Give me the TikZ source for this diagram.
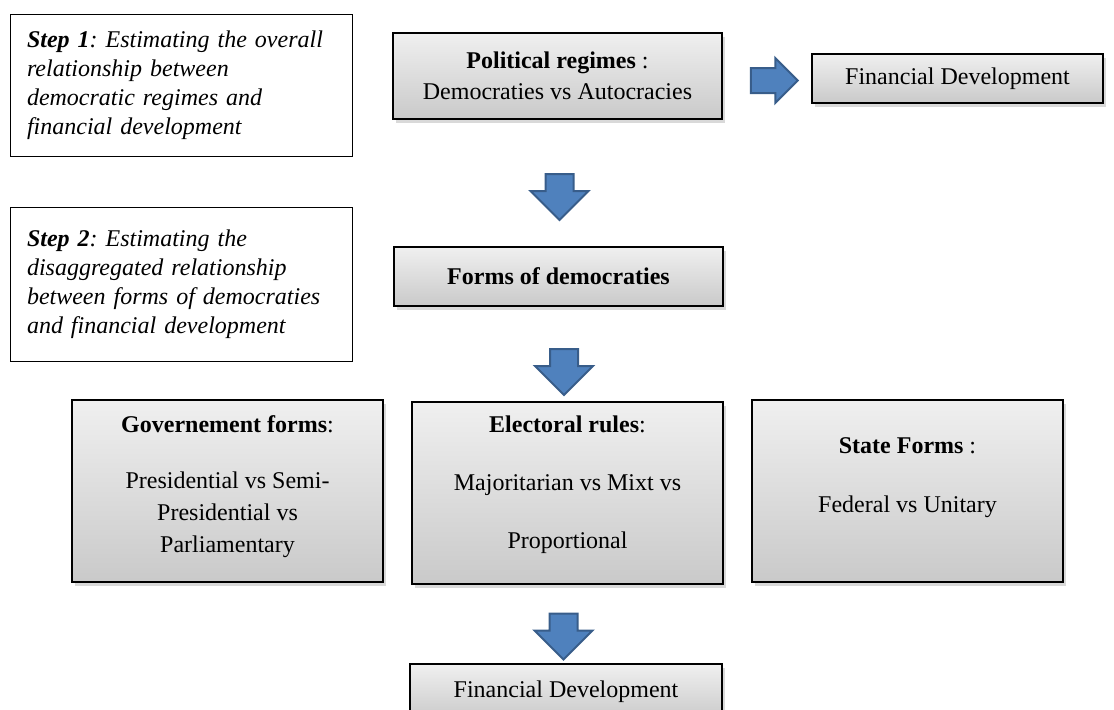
\documentclass[tikz,border=0pt]{standalone}
\usepackage{fontspec}
\setmainfont{Liberation Serif}
\usetikzlibrary{shapes.arrows,shadows}
\newlength{\du}
\setlength{\du}{0.5pt}
\definecolor{arrowfill}{RGB}{79,129,189}
\definecolor{arrowedge}{RGB}{56,93,138}
\frenchspacing

\begin{document}
\begin{tikzpicture}[yscale=-1,
  font=\fontsize{12}{14.5}\selectfont,
  gbox/.style={draw=black, line width=0.8pt, top color=gray!12, bottom color=gray!42,
    drop shadow={shadow xshift=1.5pt, shadow yshift=-2pt, opacity=0.3}, inner sep=0pt, align=center},
  stepbox/.style={draw=black, line width=0.5pt, fill=white, inner xsep=8.5pt, inner ysep=0pt, align=left},
  blockarrow/.style={single arrow, draw=arrowedge, fill=arrowfill, line width=1pt,
    inner xsep=0pt, inner ysep=6.5pt, minimum height=23pt, single arrow head extend=7.5pt},
  downarrow/.style={blockarrow, shape border rotate=270, inner xsep=6.5pt, inner ysep=0pt}]
\useasboundingbox (0,0) rectangle (1114\du,709\du);
\clip (0,0) rectangle (1114\du,709\du);
% steps
\node[stepbox, minimum width=342\du, minimum height=142\du, text width=308\du] (stepone) at (181\du,85\du)
  {\textbf{\textit{Step 1}}\textit{: Estimating the overall}\\ \textit{relationship between}\\ \textit{democratic regimes and}\\ \textit{financial development}};
\node[stepbox, minimum width=342\du, minimum height=154\du, text width=308\du] (steptwo) at (181\du,284\du)
  {\textbf{\textit{Step 2}}\textit{: Estimating the}\\ \textit{disaggregated relationship}\\ \textit{between forms of democraties}\\ \textit{and financial development}};
% top row
\node[gbox, minimum width=329\du, minimum height=86\du, font=\fontsize{12}{15.5}\selectfont] (regimes) at (557.5\du,76\du)
  {\textbf{Political regimes} :\\ Democraties vs Autocracies};
\node[blockarrow, minimum height=23.5pt, inner ysep=5.75pt, single arrow head extend=5pt] (arrowright) at (768\du,80.5\du) {};
\node[gbox, minimum width=291\du, minimum height=49\du] (findevtop) at (957.5\du,78.5\du) {Financial Development};
\node[downarrow] (arrowone) at (559.5\du,190\du) {};
% forms
\node[gbox, minimum width=329\du, minimum height=59\du] (forms) at (558.5\du,276.5\du) {\textbf{Forms of democraties}};
\node[downarrow] (arrowtwo) at (564\du,365\du) {};
% three forms
\node[gbox, minimum width=311\du, minimum height=182\du] (govforms) at (227.5\du,491\du) {};
\node[align=center, font=\fontsize{12}{16}\selectfont] (govtext) at (227.5\du,487\du)
  {\textbf{Governement forms}:\\[12pt] Presidential vs Semi-\\ Presidential vs\\ Parliamentary};
\node[gbox, minimum width=311\du, minimum height=182\du] (elecrules) at (567.5\du,493\du) {};
\node[align=center, font=\fontsize{12}{16}\selectfont] (electext) at (567.5\du,485\du)
  {\textbf{Electoral rules}:\\[13pt] Majoritarian vs Mixt vs\\[13pt] Proportional};
\node[gbox, minimum width=311\du, minimum height=182\du] (stateforms) at (907.5\du,491\du) {};
\node[align=center, font=\fontsize{12}{16}\selectfont] (statetext) at (907.5\du,477.5\du)
  {\textbf{State Forms} :\\[13.5pt] Federal vs Unitary};
\node[downarrow] (arrowthree) at (563.5\du,629.5\du) {};
% bottom
\node[gbox, minimum width=312\du, minimum height=56\du] (findevbot) at (566\du,692\du) {Financial Development};
\end{tikzpicture}
\end{document}
